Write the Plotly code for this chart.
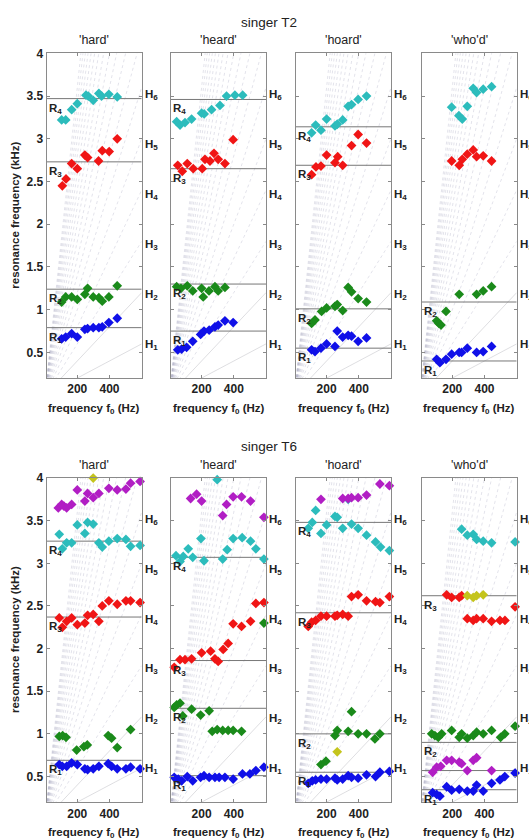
import plotly.graph_objects as go

# ---------------- axes / labels ----------------
F0_RANGE = [10, 600]          # Hz
FR_RANGE = [0.2, 4.0]         # kHz
X_TICKS = [200, 400]
Y_TICKS = [0.5, 1, 1.5, 2, 2.5, 3, 3.5, 4]
Y_TICK_TEXT = ["0.5", "1", "1.5", "2", "2.5", "3", "3.5", "4"]
HARMONICS = list(range(1, 19))
H_LABEL_N = [1, 2, 3, 4, 5, 6]
SINGERS = ["singer T2", "singer T6"]
WORDS = ["'hard'", "'heard'", "'hoard'", "'who'd'"]

# ---------------- singer T2 ----------------
T2_hard_cyan_f0 = [103, 128, 165, 200, 254, 268, 299, 334, 351, 396, 448]
T2_hard_cyan_fr = [3.22, 3.22, 3.34, 3.41, 3.51, 3.50, 3.45, 3.53, 3.50, 3.52, 3.49]
T2_hard_red_f0 = [107, 130, 165, 200, 247, 264, 332, 355, 398, 448]
T2_hard_red_fr = [2.45, 2.53, 2.71, 2.65, 2.81, 2.78, 2.74, 2.86, 2.85, 3.00]
T2_hard_green_f0 = [103, 128, 165, 200, 247, 264, 299, 334, 355, 396, 448]
T2_hard_green_fr = [1.09, 1.15, 1.15, 1.12, 1.18, 1.25, 1.15, 1.14, 1.10, 1.15, 1.28]
T2_hard_blue_f0 = [103, 128, 165, 200, 247, 264, 299, 334, 355, 396, 448]
T2_hard_blue_fr = [0.66, 0.68, 0.72, 0.68, 0.77, 0.78, 0.79, 0.79, 0.80, 0.85, 0.90]
T2_hard_R = [0.79, 1.24, 2.73, 3.47]
T2_hard_R_names = ["1", "2", "3", "4"]

T2_heard_cyan_f0 = [45, 66, 97, 138, 200, 216, 262, 314, 355, 407, 455]
T2_heard_cyan_fr = [3.20, 3.16, 3.19, 3.23, 3.30, 3.29, 3.34, 3.39, 3.50, 3.51, 3.51]
T2_heard_red_f0 = [52, 80, 111, 148, 204, 221, 252, 277, 303, 345, 396]
T2_heard_red_fr = [2.69, 2.62, 2.71, 2.65, 2.65, 2.76, 2.74, 2.83, 2.76, 2.71, 2.99]
T2_heard_green_f0 = [45, 72, 111, 145, 200, 210, 246, 283, 303, 345]
T2_heard_green_fr = [1.27, 1.25, 1.28, 1.22, 1.25, 1.15, 1.22, 1.27, 1.22, 1.26]
T2_heard_blue_f0 = [52, 76, 107, 145, 194, 215, 247, 283, 303, 345, 396]
T2_heard_blue_fr = [0.53, 0.54, 0.56, 0.63, 0.71, 0.75, 0.76, 0.80, 0.82, 0.87, 0.85]
T2_heard_R = [0.75, 1.30, 2.65, 3.46]
T2_heard_R_names = ["1", "2", "3", "4"]

T2_hoard_cyan_f0 = [107, 132, 165, 200, 252, 266, 300, 334, 355, 396, 448]
T2_hoard_cyan_fr = [3.07, 3.16, 3.10, 3.23, 3.15, 3.17, 3.22, 3.38, 3.40, 3.46, 3.50]
T2_hoard_red_f0 = [107, 134, 165, 200, 252, 269, 300, 355, 396, 448]
T2_hoard_red_fr = [2.58, 2.67, 2.68, 2.81, 2.72, 2.79, 2.69, 2.92, 3.05, 2.95]
T2_hoard_green_f0 = [107, 128, 169, 200, 252, 266, 300, 334, 355, 396, 448]
T2_hoard_green_fr = [0.84, 0.88, 0.98, 1.02, 1.04, 1.06, 0.99, 1.26, 1.21, 1.13, 1.09]
T2_hoard_blue_f0 = [107, 128, 165, 200, 252, 266, 300, 334, 355, 396, 448]
T2_hoard_blue_fr = [0.53, 0.51, 0.55, 0.60, 0.57, 0.75, 0.68, 0.70, 0.69, 0.63, 0.67]
T2_hoard_R = [0.55, 1.01, 2.69, 3.14]
T2_hoard_R_names = ["1", "2", "3", "4"]

T2_whod_cyan_f0 = [196, 241, 262, 293, 330, 351, 392, 444]
T2_whod_cyan_fr = [3.37, 3.27, 3.23, 3.38, 3.59, 3.54, 3.58, 3.61]
T2_whod_red_f0 = [196, 243, 262, 293, 330, 351, 392, 444]
T2_whod_red_fr = [2.74, 2.69, 2.76, 2.82, 2.87, 2.79, 2.80, 2.74]
T2_whod_green_f0 = [103, 117, 130, 161, 243, 351, 392, 444]
T2_whod_green_fr = [0.87, 0.84, 0.82, 0.98, 1.18, 1.18, 1.22, 1.27]
T2_whod_blue_f0 = [103, 123, 161, 196, 243, 258, 293, 351, 392, 444]
T2_whod_blue_fr = [0.42, 0.38, 0.42, 0.48, 0.50, 0.50, 0.55, 0.50, 0.51, 0.57]
T2_whod_R = [0.40, 1.09]
T2_whod_R_names = ["1", "2"]

# ---------------- singer T6 ----------------
T6_hard_magenta_f0 = [82, 103, 117, 134, 165, 200, 247, 264, 299, 334, 396, 448, 502, 531, 590]
T6_hard_magenta_fr = [3.65, 3.69, 3.67, 3.65, 3.69, 3.86, 3.73, 3.82, 3.77, 3.82, 3.88, 3.86, 3.87, 3.94, 3.96]
T6_hard_yellow_f0 = [299]
T6_hard_yellow_fr = [4.0]
T6_hard_cyan_f0 = [88, 107, 134, 165, 200, 247, 264, 299, 334, 355, 396, 448, 502, 531, 590]
T6_hard_cyan_fr = [3.34, 3.17, 3.24, 3.24, 3.45, 3.35, 3.48, 3.46, 3.24, 3.19, 3.26, 3.29, 3.28, 3.20, 3.21]
T6_hard_red_f0 = [88, 107, 134, 165, 200, 247, 264, 299, 334, 355, 396, 448, 502, 531, 590]
T6_hard_red_fr = [2.36, 2.25, 2.32, 2.36, 2.28, 2.30, 2.39, 2.40, 2.32, 2.50, 2.56, 2.52, 2.56, 2.56, 2.54]
T6_hard_green_f0 = [88, 109, 130, 196, 241, 262, 392, 413, 448, 531]
T6_hard_green_fr = [0.97, 0.98, 0.96, 0.81, 0.85, 0.87, 0.98, 0.95, 0.84, 1.05]
T6_hard_blue_f0 = [88, 107, 134, 165, 200, 247, 264, 299, 334, 392, 413, 448, 502, 531, 590]
T6_hard_blue_fr = [0.64, 0.62, 0.62, 0.66, 0.64, 0.59, 0.58, 0.59, 0.62, 0.65, 0.62, 0.59, 0.59, 0.61, 0.59]
T6_hard_R = [0.69, 2.37, 3.26]
T6_hard_R_names = ["1", "3", "4"]

T6_heard_magenta_f0 = [132, 169, 200, 331, 355, 396, 448, 504, 587]
T6_heard_magenta_fr = [3.76, 3.81, 3.73, 3.56, 3.69, 3.78, 3.78, 3.73, 3.54]
T6_heard_cyan_f0 = [41, 66, 86, 117, 145, 196, 215, 297, 331, 359, 396, 452, 504, 537, 587]
T6_heard_cyan_fr = [3.09, 3.02, 3.08, 3.17, 3.07, 3.29, 3.03, 3.98, 3.05, 3.16, 3.29, 3.30, 3.26, 3.17, 3.05]
T6_heard_red_f0 = [30, 66, 97, 138, 200, 256, 283, 303, 334, 365, 396, 448, 504, 537, 587]
T6_heard_red_fr = [1.78, 1.87, 1.87, 1.88, 1.95, 1.97, 1.88, 1.85, 1.99, 2.06, 2.29, 2.26, 2.32, 2.53, 2.54]
T6_heard_green_f0 = [30, 45, 66, 83, 138, 194, 247, 266, 297, 331, 365, 396, 448, 587]
T6_heard_green_fr = [1.31, 1.34, 1.36, 1.21, 1.29, 1.22, 1.27, 1.03, 1.05, 1.04, 1.04, 1.04, 1.03, 2.30]
T6_heard_blue_f0 = [30, 55, 76, 111, 145, 194, 215, 247, 283, 309, 345, 396, 454, 500, 537, 587]
T6_heard_blue_fr = [0.49, 0.47, 0.45, 0.50, 0.45, 0.49, 0.51, 0.49, 0.49, 0.49, 0.49, 0.47, 0.53, 0.53, 0.57, 0.61]
T6_heard_R = [0.51, 1.30, 1.86, 3.07]
T6_heard_R_names = ["1", "2", "3", "4"]

T6_hoard_magenta_f0 = [165, 300, 334, 355, 396, 448, 531, 590]
T6_hoard_magenta_fr = [3.75, 3.76, 3.76, 3.77, 3.77, 3.80, 3.93, 3.91]
T6_hoard_cyan_f0 = [86, 111, 132, 165, 200, 252, 266, 300, 334, 355, 396, 448, 504, 535, 590]
T6_hoard_cyan_fr = [3.41, 3.48, 3.62, 3.35, 3.45, 3.55, 3.54, 3.41, 3.75, 3.46, 3.41, 3.33, 3.25, 3.19, 3.15]
T6_hoard_red_f0 = [86, 107, 132, 165, 200, 252, 266, 300, 334, 355, 396, 448, 504, 531, 590]
T6_hoard_red_fr = [2.26, 2.31, 2.33, 2.38, 2.38, 2.38, 2.39, 2.40, 2.38, 2.61, 2.63, 2.56, 2.55, 2.54, 2.61]
T6_hoard_green_f0 = [165, 196, 252, 266, 334, 355, 396, 448, 500, 531]
T6_hoard_green_fr = [0.64, 0.68, 0.98, 1.04, 1.03, 1.26, 1.00, 1.00, 0.94, 1.00]
T6_hoard_yellow_f0 = [266]
T6_hoard_yellow_fr = [0.79]
T6_hoard_blue_f0 = [86, 111, 132, 165, 200, 252, 266, 300, 334, 355, 396, 448, 504, 531, 590]
T6_hoard_blue_fr = [0.42, 0.45, 0.46, 0.47, 0.47, 0.48, 0.46, 0.47, 0.51, 0.49, 0.48, 0.52, 0.50, 0.55, 0.56]
T6_hoard_R = [0.55, 1.00, 2.42, 3.48]
T6_hoard_R_names = ["1", "2", "3", "4"]

T6_whod_cyan_f0 = [258, 293, 330, 351, 392, 444, 590]
T6_whod_cyan_fr = [3.40, 3.33, 3.34, 3.28, 3.26, 3.24, 3.25]
T6_whod_red_f0 = [165, 196, 243, 258, 293, 330, 351, 392, 444, 496, 527, 590]
T6_whod_red_fr = [2.63, 2.60, 2.60, 2.62, 2.35, 2.33, 2.35, 2.35, 2.32, 2.33, 2.33, 2.49]
T6_whod_yellow_f0 = [293, 330, 351, 392]
T6_whod_yellow_fr = [2.62, 2.60, 2.62, 2.63]
T6_whod_green_f0 = [72, 92, 113, 134, 196, 243, 258, 293, 330, 351, 392, 444, 500, 526, 590]
T6_whod_green_fr = [1.00, 0.98, 0.96, 1.00, 1.04, 0.96, 1.00, 0.95, 0.98, 1.02, 1.00, 1.04, 0.96, 1.00, 1.09]
T6_whod_magenta_f0 = [78, 103, 128, 165, 196, 243, 258, 293, 330, 351, 444]
T6_whod_magenta_fr = [0.55, 0.61, 0.62, 0.69, 0.69, 0.67, 0.65, 0.57, 0.69, 0.72, 0.57]
T6_whod_blue_f0 = [78, 103, 123, 165, 196, 243, 293, 330, 351, 392, 444, 496, 526, 590]
T6_whod_blue_fr = [0.31, 0.29, 0.27, 0.38, 0.34, 0.35, 0.33, 0.33, 0.40, 0.33, 0.42, 0.46, 0.50, 0.54]
T6_whod_R = [0.345, 0.57, 0.90, 2.62]
T6_whod_R_names = ["1", "", "2", "3"]

COLORS = {"blue": "#1010e8", "green": "#1a8a1a", "red": "#f01515",
          "cyan": "#2cbcbc", "magenta": "#b11ec4", "yellow": "#c4c41c"}

PANELS = [
    [("blue", T2_hard_blue_f0, T2_hard_blue_fr), ("green", T2_hard_green_f0, T2_hard_green_fr),
     ("red", T2_hard_red_f0, T2_hard_red_fr), ("cyan", T2_hard_cyan_f0, T2_hard_cyan_fr)],
    [("blue", T2_heard_blue_f0, T2_heard_blue_fr), ("green", T2_heard_green_f0, T2_heard_green_fr),
     ("red", T2_heard_red_f0, T2_heard_red_fr), ("cyan", T2_heard_cyan_f0, T2_heard_cyan_fr)],
    [("blue", T2_hoard_blue_f0, T2_hoard_blue_fr), ("green", T2_hoard_green_f0, T2_hoard_green_fr),
     ("red", T2_hoard_red_f0, T2_hoard_red_fr), ("cyan", T2_hoard_cyan_f0, T2_hoard_cyan_fr)],
    [("blue", T2_whod_blue_f0, T2_whod_blue_fr), ("green", T2_whod_green_f0, T2_whod_green_fr),
     ("red", T2_whod_red_f0, T2_whod_red_fr), ("cyan", T2_whod_cyan_f0, T2_whod_cyan_fr)],
    [("blue", T6_hard_blue_f0, T6_hard_blue_fr), ("green", T6_hard_green_f0, T6_hard_green_fr),
     ("red", T6_hard_red_f0, T6_hard_red_fr), ("cyan", T6_hard_cyan_f0, T6_hard_cyan_fr),
     ("magenta", T6_hard_magenta_f0, T6_hard_magenta_fr), ("yellow", T6_hard_yellow_f0, T6_hard_yellow_fr)],
    [("blue", T6_heard_blue_f0, T6_heard_blue_fr), ("green", T6_heard_green_f0, T6_heard_green_fr),
     ("red", T6_heard_red_f0, T6_heard_red_fr), ("cyan", T6_heard_cyan_f0, T6_heard_cyan_fr),
     ("magenta", T6_heard_magenta_f0, T6_heard_magenta_fr)],
    [("blue", T6_hoard_blue_f0, T6_hoard_blue_fr), ("green", T6_hoard_green_f0, T6_hoard_green_fr),
     ("red", T6_hoard_red_f0, T6_hoard_red_fr), ("cyan", T6_hoard_cyan_f0, T6_hoard_cyan_fr),
     ("magenta", T6_hoard_magenta_f0, T6_hoard_magenta_fr), ("yellow", T6_hoard_yellow_f0, T6_hoard_yellow_fr)],
    [("blue", T6_whod_blue_f0, T6_whod_blue_fr), ("magenta", T6_whod_magenta_f0, T6_whod_magenta_fr),
     ("green", T6_whod_green_f0, T6_whod_green_fr), ("red", T6_whod_red_f0, T6_whod_red_fr),
     ("yellow", T6_whod_yellow_f0, T6_whod_yellow_fr), ("cyan", T6_whod_cyan_f0, T6_whod_cyan_fr)],
]
R_LINES = [(T2_hard_R, T2_hard_R_names), (T2_heard_R, T2_heard_R_names),
           (T2_hoard_R, T2_hoard_R_names), (T2_whod_R, T2_whod_R_names),
           (T6_hard_R, T6_hard_R_names), (T6_heard_R, T6_heard_R_names),
           (T6_hoard_R, T6_hoard_R_names), (T6_whod_R, T6_whod_R_names)]

# ---------------- layout geometry (pixels) ----------------
W, H = 529, 838
COL_LEFT = [46.7, 171.0, 296.0, 421.7]
PANEL_W = 95.0
ROW_TOP = [46.7, 475.0]
ROW_BOT = [374.2, 801.8]
FONT = "Liberation Sans, Arial, sans-serif"
FRAME = "#8a8a8a"
TXT = "#222222"

fig = go.Figure()
layout = dict(width=W, height=H, margin=dict(l=0, r=0, t=0, b=0),
              paper_bgcolor="white", plot_bgcolor="white", showlegend=False,
              font=dict(family=FONT, color=TXT))
annotations = []


def px_x(p):
    return p / W


def px_y(p):
    return 1 - p / H


for i in range(8):
    row, col = divmod(i, 4)
    idx = i + 1
    xa = "x" if idx == 1 else f"x{idx}"
    ya = "y" if idx == 1 else f"y{idx}"
    xkey = "xaxis" if idx == 1 else f"xaxis{idx}"
    ykey = "yaxis" if idx == 1 else f"yaxis{idx}"
    left = COL_LEFT[col]
    layout[xkey] = dict(domain=[px_x(left), px_x(left + PANEL_W)], range=F0_RANGE,
                        anchor=ya, tickvals=X_TICKS, ticks="inside", ticklen=3,
                        tickcolor=FRAME, showline=True, linecolor=FRAME, linewidth=1,
                        mirror="ticks", showgrid=False, zeroline=False,
                        tickfont=dict(size=12, family=FONT, weight="bold", color=TXT))
    layout[ykey] = dict(domain=[px_y(ROW_BOT[row]), px_y(ROW_TOP[row])], range=FR_RANGE,
                        anchor=xa, tickvals=Y_TICKS, ticktext=Y_TICK_TEXT,
                        showticklabels=(col == 0), ticks="inside", ticklen=3,
                        tickcolor=FRAME, showline=True, linecolor=FRAME, linewidth=1,
                        mirror="ticks", showgrid=False, zeroline=False,
                        tickfont=dict(size=12, family=FONT, weight="bold", color=TXT))

    # harmonic lines  f = n * f0
    for n in HARMONICS:
        solid = n <= 2
        fig.add_trace(go.Scatter(
            x=[0, F0_RANGE[1]], y=[0, n * F0_RANGE[1] / 1000.0], mode="lines",
            line=dict(color="rgba(200,200,205,0.6)" if solid else "rgba(170,170,195,0.42)",
                      width=1 if solid else 0.8, dash="solid" if solid else "dot"),
            xaxis=xa, yaxis=ya, hoverinfo="skip"))

    # resonance lines
    vals, names = R_LINES[i]
    for v, nm in zip(vals, names):
        fig.add_trace(go.Scatter(x=F0_RANGE, y=[v, v], mode="lines",
                                 line=dict(color="#777777", width=1),
                                 xaxis=xa, yaxis=ya, hoverinfo="skip"))
        if nm:
            annotations.append(dict(
                x=0.0, y=v, xref=f"{xa} domain", yref=ya, xanchor="left", yanchor="top",
                text=f"R<sub>{nm}</sub>", showarrow=False, xshift=0, yshift=-1,
                font=dict(size=11.5, family=FONT, weight="bold", color=TXT)))

    # measured points
    for cname, fx, fy in PANELS[i]:
        fig.add_trace(go.Scatter(x=fx, y=fy, mode="markers", cliponaxis=False,
                                 marker=dict(symbol="diamond", size=7.5, color=COLORS[cname],
                                             line=dict(width=0)),
                                 xaxis=xa, yaxis=ya))

    # harmonic labels on the right
    for n in H_LABEL_N:
        annotations.append(dict(
            x=1.0, y=n * 0.585, xref=f"{xa} domain", yref=ya, xanchor="left",
            yanchor="middle", text=f"H<sub>{n}</sub>", showarrow=False, xshift=1,
            font=dict(size=11.5, family=FONT, weight="bold", color=TXT)))

    # panel titles
    annotations.append(dict(
        x=px_x(left + PANEL_W / 2), y=px_y(ROW_TOP[row] - 13.5), xref="paper", yref="paper",
        xanchor="center", yanchor="middle", text=WORDS[col], showarrow=False,
        font=dict(size=12.5, family=FONT, color=TXT)))
    # x-axis titles
    annotations.append(dict(
        x=px_x(left + PANEL_W / 2), y=px_y(ROW_BOT[row] + 31), xref="paper", yref="paper",
        xanchor="center", yanchor="middle", text="frequency f<sub>0</sub> (Hz)",
        showarrow=False, font=dict(size=11.5, family=FONT, weight="bold", color=TXT)))

for row in range(2):
    annotations.append(dict(
        x=px_x(269), y=px_y(ROW_TOP[row] - 31.5), xref="paper", yref="paper",
        xanchor="center", yanchor="middle", text=SINGERS[row], showarrow=False,
        font=dict(size=13.5, family=FONT, color=TXT)))
    annotations.append(dict(
        x=px_x(15), y=px_y((ROW_TOP[row] + ROW_BOT[row]) / 2), xref="paper", yref="paper",
        xanchor="center", yanchor="middle", text="resonance frequency (kHz)", textangle=-90,
        showarrow=False, font=dict(size=11.5, family=FONT, weight="bold", color=TXT)))

layout["annotations"] = annotations
fig.update_layout(**layout)
fig.write_html("out.html", config={"displayModeBar": False},
               post_script="document.body.style.margin='0';document.body.style.overflow='hidden';")
